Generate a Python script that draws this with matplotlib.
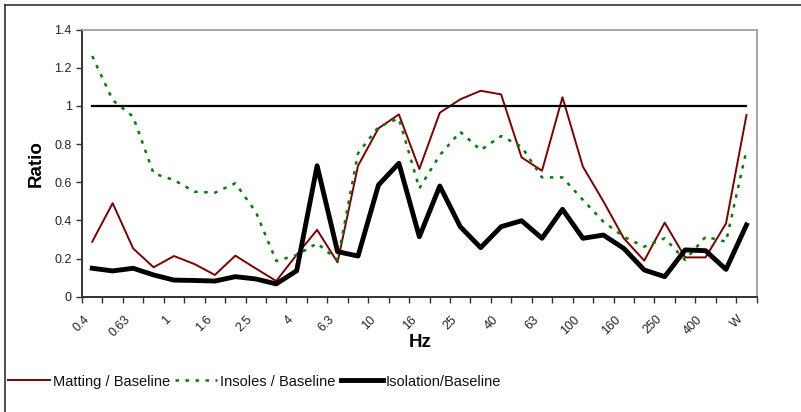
import matplotlib
matplotlib.use('Agg')
import matplotlib.pyplot as plt
from matplotlib.lines import Line2D
import numpy as np

plt.rcParams['font.family'] = ['Liberation Sans', 'DejaVu Sans']

bands = ['0.4', '0.5', '0.63', '0.8', '1', '1.25', '1.6', '2', '2.5', '3.15',
         '4', '5', '6.3', '8', '10', '12.5', '16', '20', '25', '31.5',
         '40', '50', '63', '80', '100', '125', '160', '200', '250', '315',
         '400', '500', 'W']

matting = [0.288, 0.49, 0.253, 0.154, 0.213, 0.171, 0.114, 0.215, 0.148, 0.082,
           0.22, 0.35, 0.18, 0.686, 0.882, 0.955, 0.669, 0.964, 1.034, 1.079,
           1.06, 0.73, 0.66, 1.045, 0.681, 0.50, 0.306, 0.189, 0.388, 0.206,
           0.206, 0.384, 0.952]
insoles = [1.261, 1.03, 0.943, 0.646, 0.611, 0.55, 0.545, 0.594, 0.445, 0.187,
           0.218, 0.28, 0.192, 0.751, 0.89, 0.934, 0.568, 0.742, 0.864, 0.768,
           0.842, 0.786, 0.625, 0.625, 0.507, 0.393, 0.314, 0.262, 0.306, 0.192,
           0.314, 0.288, 0.768]
isolation = [0.149, 0.135, 0.149, 0.114, 0.087, 0.085, 0.082, 0.105, 0.093, 0.067,
             0.136, 0.686, 0.236, 0.213, 0.585, 0.699, 0.314, 0.58, 0.367, 0.257,
             0.367, 0.398, 0.306, 0.458, 0.306, 0.323, 0.253, 0.14, 0.105, 0.245,
             0.241, 0.143, 0.376]
reference = [1.0] * len(bands)

W, H = 801, 412
x = np.arange(len(bands))

fig = plt.figure(figsize=(W / 100, H / 100), dpi=100)
ax = fig.add_axes([82 / W, 1 - 296.7 / H, (756.7 - 82) / W, (296.7 - 29.5) / H])

styles = [
    dict(color='#800000', lw=1.4),
    dict(color='#008000', lw=1.8, ls=(0, (1.4, 2.6))),
    dict(color='black', lw=3.5),
]
names = ['Matting / Baseline', 'Insoles / Baseline', 'Isolation/Baseline']
for vals, st in zip([matting, insoles, isolation], styles):
    ax.plot(x, vals, **st)
ax.plot(x, reference, color='black', lw=1.6)

ax.set_xlim(-0.5, len(bands) - 0.5)
ax.set_ylim(0, 1.4)
ax.set_yticks(np.arange(0, 1.41, 0.2))
ax.set_yticklabels(['0', '0.2', '0.4', '0.6', '0.8', '1', '1.2', '1.4'], fontsize=9, color='#222222')

ax.set_xticks(np.arange(-0.5, len(bands), 1))
ax.set_xticklabels([])
# label anchors sit a little left of the category centre, like the original
ax.set_xticks(x[::2] - 0.45, minor=True)
ax.set_xticklabels(bands[::2], minor=True, rotation=45, ha='right', va='top',
                   fontsize=9, color='#222222', rotation_mode='anchor')
ax.tick_params(axis='x', which='minor', length=0, pad=12)
ax.tick_params(axis='x', which='major', length=4, direction='out', width=1, color='#333333')
ax.tick_params(axis='y', length=4, direction='out', width=1, color='#333333')

for side in ['top', 'right']:
    ax.spines[side].set_color('#999999')
    ax.spines[side].set_linewidth(1.2)
for side in ['left', 'bottom']:
    ax.spines[side].set_color('#333333')
    ax.spines[side].set_linewidth(1.4)

ax.set_ylabel('Ratio', fontsize=13.5, fontweight='bold', labelpad=7)
ax.set_xlabel('Hz', fontsize=13.5, fontweight='bold')
ax.xaxis.set_label_coords((420 - 82) / (756.7 - 82), -(334 - 296.7) / (296.7 - 29.5))

# legend row along the bottom, laid out by hand
renderer = fig.canvas.get_renderer()
xpos = 8
ymid = 1 - 380 / H
for name, st in zip(names, styles):
    fig.add_artist(Line2D([xpos / W, (xpos + 42) / W], [ymid, ymid], **st))
    t = fig.text((xpos + 45) / W, ymid - 2 / H, name, fontsize=10.5, va='center', ha='left', color='#111111')
    bb = t.get_window_extent(renderer)
    xpos = bb.x1 + 5

fig.add_artist(Line2D([5 / W, 5 / W], [0, 1 - 5 / H], color='#333333', lw=1.2))
fig.add_artist(Line2D([5 / W, 1], [1 - 5 / H, 1 - 5 / H], color='#333333', lw=1.2))

fig.savefig('out.png', dpi=100)
